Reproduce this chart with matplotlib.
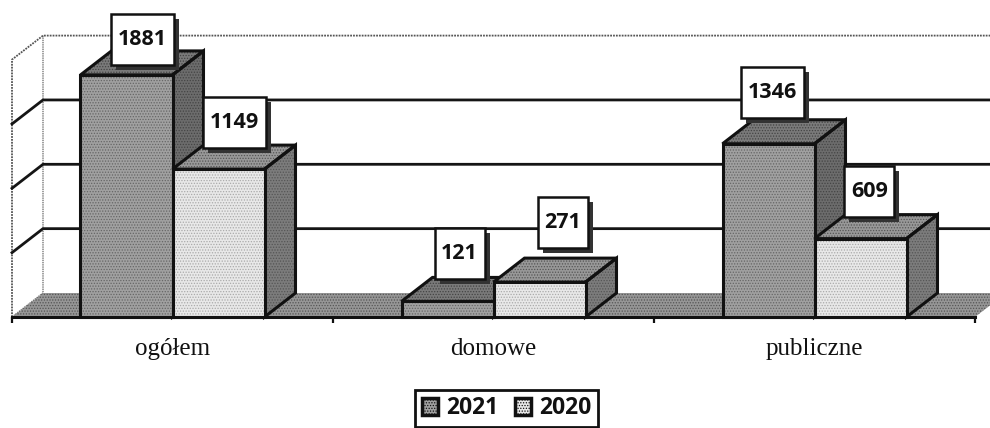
import matplotlib
matplotlib.use("Agg")
import matplotlib.pyplot as plt
from matplotlib.patches import Polygon, Patch, Rectangle
from matplotlib.transforms import IdentityTransform

categories = ["ogółem", "domowe", "publiczne"]
series_names = ["2021", "2020"]
values_2021 = [1881, 121, 1346]
values_2020 = [1149, 271, 609]
y_ticks = [0, 500, 1000, 1500, 2000]

# label box centres, as pixel offsets from the top centre of each bar's front face
offsets_2021 = [(15.5, 35), (12, 47.5), (3.5, 51)]
offsets_2020 = [(16, 47), (23.5, 60), (9, 47)]

W, H = 990, 428
PX_X0, PX_X1, PX_BASE = 12, 975, 317
PX_PER_VAL = 0.1287
plt.rcParams["hatch.linewidth"] = 0.6
fig = plt.figure(figsize=(W / 100, H / 100), dpi=100, facecolor="white")
ax = fig.add_axes([PX_X0 / W, (H - PX_BASE) / H, (PX_X1 - PX_X0) / W, 2000 * PX_PER_VAL / H])
ax.set_xlim(0, 3)
ax.set_ylim(0, 2000)
for s in ax.spines.values():
    s.set_visible(False)
ax.patch.set_visible(False)

DX = 31 / 321
DY = 24 / PX_PER_VAL
BAR_W = 92 / 321
INK = "#111111"


def face(pts, color, hatch_color, z, hatch="......"):
    ax.add_patch(Polygon(pts, closed=True, facecolor=color, edgecolor=hatch_color, hatch=hatch,
                         lw=0, zorder=z, clip_on=False))
    ax.add_patch(Polygon(pts, closed=True, fill=False, edgecolor=INK, lw=2.2,
                         joinstyle="miter", zorder=z + 0.1, clip_on=False))


# walls and floor
ax.plot([0, DX, DX], [0, DY, 2000 + DY], color="#777777", lw=1, ls=(0, (1, 0.6)), clip_on=False, zorder=1)
ax.plot([0, 0, DX, 3 + DX], [0, 2000, 2000 + DY, 2000 + DY], color="#555555", lw=1.3, ls=(0, (1, 0.6)),
        clip_on=False, zorder=1)
for v in y_ticks[1:-1]:
    ax.plot([0, DX, 3 + DX], [v, v + DY, v + DY], color="#151515", lw=2, clip_on=False, zorder=1.2)
ax.add_patch(Polygon([(0, 0), (3, 0), (3 + DX, DY), (DX, DY)], closed=True, facecolor="#969696",
                     edgecolor="#555555", hatch="......", lw=0, clip_on=False, zorder=1.5))


def draw_bars(vals, side, color, side_c, top_c, z, hatch_c, front_hatch_c):
    xs = [i + 0.5 + side * BAR_W / 2 for i in range(3)]
    for x, v in zip(xs, vals):
        l, r = x - BAR_W / 2, x + BAR_W / 2
        face([(r, 0), (r + DX, DY), (r + DX, v + DY), (r, v)], side_c, hatch_c, z)
        face([(l, v), (r, v), (r + DX, v + DY), (l + DX, v + DY)], top_c, hatch_c, z)
    ax.bar(xs, vals, BAR_W, color=color, edgecolor=front_hatch_c, linewidth=0, zorder=z + 0.2,
           hatch="......", clip_on=False)
    bars = ax.bar(xs, vals, BAR_W, fill=False, edgecolor=INK, linewidth=2.2, zorder=z + 0.3, clip_on=False)
    for b in bars:
        b.set_joinstyle("miter")
    return xs


def draw_labels(xs, vals, offs, z):
    for x, v, (ox, oy) in zip(xs, vals, offs):
        px, py = ax.transData.transform((x, v))
        cx, cy = px + ox, py + oy
        bw = 63 if v >= 1000 else 50
        bh = 51
        ax.add_patch(Rectangle((cx - bw / 2 + 5, cy - bh / 2 - 5), bw, bh, transform=IdentityTransform(),
                               facecolor="#333333", edgecolor="none", zorder=z, clip_on=False))
        ax.add_patch(Rectangle((cx - bw / 2, cy - bh / 2), bw, bh, transform=IdentityTransform(),
                               facecolor="white", edgecolor=INK, lw=1.8, zorder=z + 0.1, clip_on=False))
        ax.text(cx, cy, str(v), transform=IdentityTransform(), ha="center", va="center",
                family="Open Sans", weight="bold", fontsize=15.5, color=INK, zorder=z + 0.2, clip_on=False)


xs2 = draw_bars(values_2021, -1, "#a0a0a0", "#6c6c6c", "#7a7a7a", 3, "#444444", "#666666")
xs1 = draw_bars(values_2020, 1, "#e8e8e8", "#7c7c7c", "#989898", 4, "#555555", "#aaaaaa")
draw_labels(xs1, values_2020, offsets_2020, 5)
draw_labels(xs2, values_2021, offsets_2021, 5.5)

# axis
ax.plot([0, 3], [0, 0], color=INK, lw=2.2, clip_on=False, zorder=6)
ax.set_xticks([0, 1, 2, 3])
ax.set_xticklabels([])
ax.set_xticks([0.5, 1.5, 2.5], categories, minor=True, family="Liberation Serif", fontsize=18, color=INK)
ax.tick_params(axis="x", which="major", length=4, width=1.6, color=INK)
ax.tick_params(axis="x", which="minor", length=0, pad=15)
ax.set_yticks([])

handles = [Patch(facecolor="#a0a0a0", edgecolor=INK, lw=2.5, hatch="......", label=series_names[0]),
           Patch(facecolor="#e8e8e8", edgecolor=INK, lw=2.5, hatch="......", label=series_names[1])]
leg = fig.legend(handles=handles, loc="center", bbox_to_anchor=(506.5 / W, (H - 408.5) / H), ncols=2,
                 prop=dict(family="Open Sans", weight="bold", size=16.5), fancybox=False, framealpha=1,
                 edgecolor=INK, handlelength=0.72, handleheight=0.72, handletextpad=0.35, columnspacing=0.7,
                 borderpad=0.3, borderaxespad=0)
leg.get_frame().set_linewidth(2)
for t in leg.get_texts():
    t.set_color(INK)

fig.savefig("out.png", dpi=100, facecolor="white")
